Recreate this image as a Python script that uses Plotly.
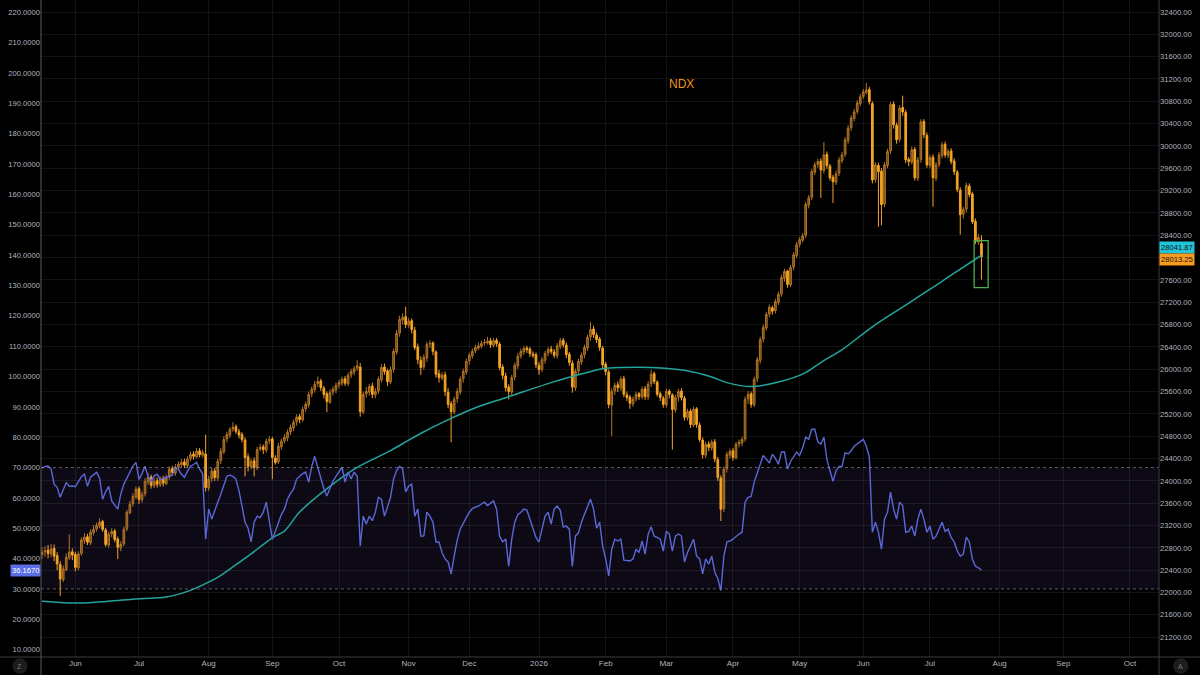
import pandas as pd
import plotly.graph_objects as go

# daily NDX bars, first bar 2025-05-16 (weekdays only)
opens = [
    22680, 22730, 22760, 22690, 22790, 22660, 22500, 22230, 22410, 22620,
    22730, 22680, 22440, 22700, 22930, 23000, 22890, 23070, 23140, 23190,
    23270, 23120, 22850, 23050, 23100, 22960, 22800, 22870, 23140, 23430,
    23590, 23710, 23860, 23660, 23770, 23980, 24070, 23910, 24000, 23930,
    24040, 23950, 24070, 24220, 24140, 24250, 24290, 24340, 24270, 24400,
    24480, 24430, 24540, 24460, 24480, 23870, 24040, 24180, 24050, 24360,
    24520, 24750, 24820, 24930, 24970, 24880, 24830, 24730, 24430, 24250,
    24360, 24230, 24570, 24610, 24550, 24720, 24750, 24410, 24340, 24610,
    24720, 24770, 24880, 24950, 25060, 25150, 25090, 25290, 25360, 25560,
    25630, 25740, 25790, 25660, 25560, 25410, 25590, 25630, 25720, 25750,
    25830, 25740, 25900, 25950, 26020, 26040, 25230, 25560, 25590, 25700,
    25540, 25610, 25810, 26040, 25970, 25770, 26000, 26310, 26650, 26880,
    26940, 26790, 26870, 26700, 26400, 26160, 26040, 26200, 26450, 26470,
    26310, 25920, 25840, 25900, 25590, 25380, 25230, 25470, 25590, 25830,
    25950, 26150, 26240, 26330, 26380, 26410, 26470, 26470, 26510, 26430,
    26520, 26450, 26040, 25880, 25680, 25590, 25860, 26060, 26240, 26310,
    26380, 26360, 26270, 26260, 26070, 26000, 26160, 26290, 26360, 26310,
    26240, 26410, 26520, 26430, 26270, 26110, 25670, 25970, 26130, 26260,
    26380, 26580, 26720, 26610, 26540, 26380, 26090, 25950, 25360, 25610,
    25720, 25660, 25830, 25540, 25500, 25380, 25470, 25560, 25500, 25650,
    25500, 25740, 25920, 25770, 25560, 25480, 25360, 25610, 25540, 25270,
    25500, 25610, 25480, 25130, 25250, 25000, 25290, 25000, 24730, 24460,
    24660, 24590, 24700, 24380, 24050, 23500, 24220, 24460, 24540, 24410,
    24660, 24680, 24750, 25470, 25560, 25360, 25830, 26160, 26540, 26740,
    26990, 27100, 27050, 27200, 27350, 27630, 27760, 27510, 27830, 28040,
    28240, 28310, 28400, 28940, 29080, 29530, 29670, 29730, 29560, 29850,
    29640, 29440, 29350, 29510, 29740, 29850, 30100, 30330, 30490, 30620,
    30760, 30890, 30960, 31010, 30760, 29400, 29650, 29550, 28960, 29650,
    29910, 30750, 30370, 30120, 30690, 30600, 29760, 29710, 29940, 29420,
    29760, 30440, 30190, 29650, 29800, 29420, 29670, 29830, 30030, 29830,
    29910, 29730, 29530, 29210, 28780, 28870, 29280, 29140, 28650, 28280,
    28250,
]
highs = [
    22810, 22830, 22850, 22870, 22860, 22720, 22560, 22480, 22700, 23040,
    22790, 22730, 22740, 22990, 23060, 23050, 23130, 23210, 23250, 23330,
    23300, 23160, 23090, 23150, 23140, 23000, 22920, 23180, 23480, 23640,
    23780, 23900, 23900, 23810, 24050, 24140, 24110, 24050, 24060, 24080,
    24090, 24110, 24260, 24270, 24300, 24350, 24390, 24400, 24440, 24520,
    24530, 24590, 24590, 24560, 24830, 24090, 24230, 24230, 24400, 24590,
    24800, 24880, 24960, 25050, 25010, 24930, 24870, 24780, 24490, 24400,
    24420, 24610, 24660, 24650, 24760, 24800, 24790, 24460, 24680, 24760,
    24840, 24920, 25010, 25100, 25190, 25200, 25330, 25420, 25600, 25690,
    25790, 25870, 25830, 25700, 25600, 25640, 25690, 25760, 25810, 25870,
    25880, 25940, 26010, 26060, 26160, 26110, 25600, 25680, 25740, 25760,
    25660, 25870, 26090, 26100, 26010, 26050, 26370, 26700, 26960, 27000,
    27120, 26920, 26910, 26760, 26460, 26230, 26270, 26490, 26520, 26500,
    26340, 25990, 25950, 25960, 25660, 25430, 25510, 25660, 25870, 26010,
    26190, 26300, 26370, 26440, 26480, 26510, 26540, 26580, 26560, 26560,
    26560, 26490, 26090, 25940, 25730, 25900, 26120, 26290, 26370, 26420,
    26420, 26400, 26320, 26300, 26130, 26220, 26330, 26400, 26420, 26360,
    26470, 26560, 26560, 26480, 26310, 26160, 26010, 26190, 26300, 26440,
    26620, 26850, 26780, 26660, 26580, 26420, 26130, 25990, 25660, 25760,
    25780, 25870, 25880, 25600, 25540, 25510, 25600, 25590, 25690, 25700,
    25780, 25990, 25960, 25800, 25600, 25520, 25650, 25640, 25570, 25540,
    25650, 25660, 25520, 25290, 25290, 25330, 25320, 25050, 24780, 24700,
    24710, 24740, 24750, 24430, 24100, 24260, 24520, 24580, 24590, 24700,
    24740, 24790, 25510, 25610, 25600, 25870, 26220, 26580, 26800, 27030,
    27160, 27140, 27260, 27390, 27690, 27800, 27780, 27870, 28100, 28280,
    28370, 28440, 29000, 29120, 29590, 29710, 29770, 29780, 30070, 29900,
    29680, 29480, 29560, 29800, 29890, 30160, 30370, 30550, 30660, 30820,
    30930, 31020, 31130, 31060, 30800, 29710, 29700, 29600, 29710, 29950,
    30790, 30800, 30420, 30730, 30900, 30650, 29800, 29990, 29980, 29800,
    30480, 30480, 30240, 29840, 29850, 29710, 29890, 30070, 30080, 29950,
    29960, 29780, 29570, 29260, 28910, 29340, 29330, 29180, 28700, 28420,
    28400,
]
lows = [
    22600, 22640, 22610, 22630, 22560, 22400, 21940, 22190, 22380, 22580,
    22580, 22380, 22400, 22660, 22870, 22850, 22850, 23020, 23090, 23150,
    23090, 22820, 22800, 22990, 22900, 22600, 22740, 22830, 23100, 23400,
    23540, 23670, 23590, 23610, 23720, 23930, 23860, 23870, 23880, 23890,
    23900, 23920, 24020, 24100, 24090, 24190, 24240, 24230, 24230, 24350,
    24380, 24400, 24420, 24420, 23810, 23820, 23980, 24000, 24000, 24300,
    24480, 24690, 24770, 24880, 24840, 24760, 24690, 24080, 24170, 24210,
    24080, 24190, 24530, 24480, 24500, 24660, 24030, 24290, 24300, 24560,
    24670, 24710, 24820, 24890, 24990, 25030, 25060, 25230, 25310, 25500,
    25580, 25680, 25610, 25480, 25230, 25380, 25530, 25570, 25660, 25700,
    25700, 25700, 25840, 25890, 25970, 25150, 25200, 25490, 25530, 25480,
    25480, 25560, 25760, 25900, 25700, 25730, 25940, 26260, 26580, 26800,
    26740, 26740, 26640, 26340, 26090, 25900, 25990, 26130, 26380, 26250,
    25850, 25760, 25800, 25520, 25300, 24690, 25190, 25400, 25540, 25760,
    25900, 26080, 26190, 26290, 26340, 26370, 26420, 26440, 26380, 26390,
    26400, 25980, 25820, 25600, 25460, 25530, 25800, 26000, 26190, 26260,
    26290, 26220, 26200, 26020, 25900, 25950, 26100, 26230, 26270, 26200,
    26190, 26360, 26390, 26200, 26060, 25580, 25610, 25900, 26080, 26200,
    26330, 26510, 26560, 26470, 26330, 26020, 25890, 25300, 24800, 25540,
    25590, 25610, 25500, 25430, 25290, 25330, 25420, 25450, 25460, 25450,
    25450, 25680, 25730, 25510, 25430, 25310, 25310, 25480, 24560, 25220,
    25420, 25440, 25080, 25080, 24950, 24960, 24950, 24700, 24400, 24410,
    24530, 24540, 24330, 24000, 23280, 23440, 24150, 24400, 24360, 24380,
    24600, 24620, 24700, 25380, 25310, 25320, 25770, 26100, 26480, 26690,
    26930, 26980, 27000, 27150, 27300, 27570, 27460, 27470, 27770, 27990,
    28180, 28270, 28350, 28880, 29030, 29480, 29610, 29070, 29510, 29590,
    29380, 28980, 29300, 29460, 29690, 29800, 30040, 30270, 30440, 30570,
    30710, 30840, 30920, 30740, 29330, 29340, 28550, 28580, 28900, 29600,
    29850, 30310, 30040, 30070, 30540, 29690, 29640, 29670, 29380, 29370,
    29700, 30140, 29610, 29600, 28910, 29370, 29620, 29780, 29790, 29780,
    29670, 29480, 29170, 28410, 28700, 28810, 29080, 28600, 28240, 28230,
    27605,
]
closes = [
    22720, 22750, 22700, 22780, 22650, 22510, 22240, 22420, 22630, 22720,
    22670, 22450, 22690, 22940, 22990, 22900, 23080, 23130, 23200, 23260,
    23130, 22860, 23040, 23090, 22950, 22810, 22860, 23130, 23440, 23580,
    23720, 23850, 23670, 23760, 23990, 24060, 23920, 23990, 23940, 24030,
    23960, 24060, 24210, 24150, 24240, 24300, 24330, 24280, 24390, 24470,
    24440, 24530, 24470, 24510, 23880, 24030, 24170, 24060, 24350, 24530,
    24740, 24830, 24920, 24960, 24890, 24820, 24740, 24420, 24260, 24350,
    24240, 24560, 24600, 24560, 24710, 24740, 24420, 24330, 24620, 24710,
    24780, 24870, 24960, 25050, 25140, 25100, 25280, 25370, 25550, 25640,
    25730, 25780, 25670, 25550, 25420, 25580, 25640, 25710, 25760, 25820,
    25750, 25890, 25960, 26010, 26060, 25240, 25550, 25600, 25690, 25550,
    25600, 25820, 26030, 25960, 25780, 25990, 26320, 26640, 26890, 26930,
    26800, 26860, 26710, 26390, 26170, 26030, 26210, 26440, 26460, 26320,
    25910, 25850, 25890, 25600, 25370, 25240, 25460, 25600, 25820, 25960,
    26140, 26250, 26320, 26390, 26420, 26460, 26480, 26500, 26440, 26510,
    26460, 26030, 25890, 25670, 25600, 25850, 26070, 26230, 26320, 26370,
    26350, 26280, 26250, 26080, 25990, 26170, 26280, 26350, 26320, 26250,
    26420, 26510, 26440, 26260, 26120, 25680, 25960, 26140, 26250, 26390,
    26570, 26710, 26620, 26530, 26390, 26080, 25960, 25370, 25600, 25710,
    25670, 25820, 25550, 25490, 25390, 25460, 25550, 25510, 25640, 25510,
    25730, 25910, 25780, 25550, 25490, 25370, 25600, 25550, 25280, 25490,
    25600, 25490, 25140, 25240, 25010, 25280, 25010, 24740, 24470, 24650,
    24600, 24690, 24390, 24060, 23490, 24210, 24470, 24530, 24420, 24650,
    24690, 24740, 25460, 25550, 25370, 25820, 26170, 26530, 26750, 26980,
    27110, 27040, 27210, 27340, 27640, 27750, 27520, 27820, 28050, 28230,
    28320, 28390, 28950, 29070, 29540, 29660, 29720, 29570, 29840, 29650,
    29430, 29360, 29500, 29750, 29840, 30110, 30320, 30500, 30610, 30770,
    30880, 30970, 31000, 30790, 29390, 29660, 29540, 28950, 29660, 29900,
    30740, 30380, 30110, 30680, 30610, 29750, 29720, 29930, 29430, 29750,
    30430, 30200, 29660, 29790, 29430, 29660, 29840, 30020, 29840, 29900,
    29720, 29540, 29220, 28770, 28860, 29290, 29130, 28640, 28290, 28360,
    28013.25,
]
rsi = [
    69.8, 70.4, 70.5, 69.5, 64.5, 63.5, 60.2, 63.0, 65.1, 63.8,
    63.9, 63.7, 65.5, 67.0, 67.8, 63.8, 66.8, 67.5, 68.4, 66.5,
    59.6, 62.0, 63.8, 59.0, 57.5, 56.3, 61.3, 64.5, 66.5, 68.4,
    70.5, 71.7, 66.1, 68.0, 70.4, 67.0, 65.5, 67.2, 67.8, 66.1,
    66.5, 66.8, 67.0, 67.5, 70.1, 69.5, 67.8, 66.8, 68.8, 70.4,
    71.0, 71.7, 69.5, 68.0, 46.4, 56.3, 53.0, 55.5, 58.6, 61.2,
    63.9, 67.1, 67.5, 67.1, 66.2, 62.3, 57.3, 52.0, 50.0, 45.5,
    52.0, 54.0, 53.5, 55.3, 58.6, 52.5, 46.4, 49.0, 52.0, 54.6,
    56.3, 59.6, 61.5, 62.9, 66.2, 67.1, 68.0, 68.5, 65.2, 70.4,
    73.7, 70.0, 66.0, 63.0, 60.6, 62.9, 65.5, 67.1, 68.5, 70.1,
    65.2, 68.5, 66.2, 68.5, 67.1, 44.1, 54.0, 51.4, 54.0, 52.5,
    55.3, 60.2, 59.6, 54.0, 57.0, 60.2, 66.2, 69.0, 70.4, 69.5,
    62.0, 63.9, 64.5, 54.0, 56.3, 47.4, 47.5, 55.3, 54.0, 52.0,
    45.5, 45.5, 42.0, 39.9, 38.9, 34.9, 40.8, 46.0, 49.7, 51.4,
    53.5, 55.3, 56.5, 57.0, 57.3, 58.0, 58.6, 57.5, 58.3, 59.0,
    56.3, 47.4, 45.5, 46.5, 37.5, 46.4, 52.0, 54.5, 55.3, 56.3,
    56.0, 53.0, 49.7, 47.0, 45.5, 49.7, 54.0, 55.3, 51.4, 56.3,
    57.3, 56.0, 50.4, 50.7, 49.7, 37.4, 47.4, 48.5, 52.0, 54.6,
    57.0, 59.6, 56.3, 50.0, 52.0, 44.1, 39.9, 34.3, 43.1, 46.4,
    45.8, 46.4, 39.5, 39.3, 39.2, 39.9, 43.1, 42.0, 45.8, 41.5,
    48.0, 50.5, 47.4, 47.0, 46.4, 42.5, 49.0, 48.1, 42.5, 47.4,
    48.1, 47.4, 38.9, 42.0, 44.1, 46.4, 40.8, 39.9, 35.0, 39.9,
    38.2, 40.8, 35.6, 33.5, 29.5, 40.8, 45.5, 45.8, 46.4, 47.4,
    48.1, 48.7, 58.6, 60.2, 60.5, 65.2, 68.5, 71.1, 74.0, 72.7,
    71.5, 74.4, 73.0, 71.1, 75.1, 75.1, 69.5, 72.0, 73.4, 75.1,
    74.0, 76.5, 80.0, 79.3, 82.6, 82.6, 78.5, 77.7, 80.0, 72.7,
    69.0, 65.5, 68.8, 70.4, 70.4, 74.9, 74.5, 75.5, 77.0, 77.7,
    78.5, 79.3, 77.0, 73.4, 48.7, 52.0, 48.7, 43.1, 53.0, 55.3,
    61.9, 56.3, 53.0, 58.6, 57.5, 48.7, 49.0, 50.7, 47.4, 53.0,
    56.3, 53.0, 48.7, 50.7, 46.4, 47.4, 49.7, 52.0, 49.0, 49.7,
    47.0, 45.5, 42.5, 40.8, 41.5, 47.1, 45.5, 39.9, 37.5, 37.0,
    36.167,
]

# moving average read at selected bars (bar number, value)
ma_bar = [0, 12, 30, 41, 48, 52, 58, 62, 69, 71, 76, 80, 85, 95, 104, 115, 121, 126, 130, 135,
          143, 153, 159, 168, 177, 185, 191, 201, 212, 221, 226, 234, 243, 252, 257, 264, 274,
          285, 296, 301, 310]
ma_val = [21845, 21810, 21880, 21920, 22020, 22110, 22270, 22420, 22690, 22775, 22980, 23100,
          23440, 23900, 24240, 24540, 24730, 24880, 24990, 25120, 25310, 25490, 25600, 25760,
          25900, 26010, 26030, 26030, 25980, 25860, 25760, 25690, 25770, 25940, 26120, 26350,
          26760, 27150, 27540, 27720, 28041.87]

month_ticks = ['2025-06-02', '2025-07-01', '2025-08-01', '2025-09-01', '2025-10-01', '2025-11-03',
               '2025-12-01', '2026-01-01', '2026-02-02', '2026-03-02', '2026-04-01', '2026-05-01',
               '2026-06-01', '2026-07-01', '2026-08-03', '2026-09-01', '2026-10-01']
month_labels = ['Jun', 'Jul', 'Aug', 'Sep', 'Oct', 'Nov', 'Dec', '2026', 'Feb', 'Mar', 'Apr', 'May',
                'Jun', 'Jul', 'Aug', 'Sep', 'Oct']

dates = pd.bdate_range('2025-05-16', periods=len(closes))
ma_dates = [dates[i] for i in ma_bar]

BG = '#000000'
GRID = 'rgba(255,255,255,0.07)'
TXT = '#b2b5be'
ORANGE = '#f5a425'
TEAL = '#22a59c'
BLUE = '#5c67d6'
FONT = 'Liberation Sans'

fig = go.Figure()
fig.add_trace(go.Candlestick(
    x=dates, open=opens, high=highs, low=lows, close=closes, yaxis='y',
    increasing=dict(line=dict(color='#b27625', width=1), fillcolor='rgba(178,118,37,0.6)'),
    decreasing=dict(line=dict(color=ORANGE, width=1), fillcolor=ORANGE),
    whiskerwidth=0, showlegend=False, hoverinfo='skip'))
fig.add_trace(go.Scatter(x=ma_dates, y=ma_val, mode='lines', yaxis='y',
                         line=dict(color=TEAL, width=1.5, shape='spline', smoothing=0.8),
                         showlegend=False, hoverinfo='skip'))
fig.add_trace(go.Scatter(x=dates, y=rsi, mode='lines', yaxis='y2',
                         line=dict(color=BLUE, width=1.4), showlegend=False, hoverinfo='skip'))

shapes = [
    dict(type='rect', xref='paper', yref='y2', x0=0, x1=1, y0=30, y1=70,
         fillcolor='rgba(120,90,200,0.11)', line=dict(width=0), layer='below'),
    dict(type='line', xref='paper', yref='y2', x0=0, x1=1, y0=70, y1=70,
         line=dict(color='rgba(160,160,170,0.55)', width=1, dash='3px,3px')),
    dict(type='line', xref='paper', yref='y2', x0=0, x1=1, y0=30, y1=30,
         line=dict(color='rgba(160,160,170,0.55)', width=1, dash='3px,3px')),
    # highlight box around the last bars
    dict(type='rect', xref='x', yref='y', x0='2026-07-21 14:00', x1='2026-07-28 05:00',
         y0=27463, y1=28303, line=dict(color='#4caf50', width=1.3)),
    # frame lines
    dict(type='line', xref='paper', yref='paper', x0=-0.04, x1=1.04, y0=0, y1=0,
         line=dict(color='#3c3c3c', width=1)),
    dict(type='line', xref='paper', yref='paper', x0=0, x1=0, y0=-0.03, y1=1,
         line=dict(color='#5a5a5a', width=1)),
    dict(type='line', xref='paper', yref='paper', x0=1, x1=1, y0=-0.03, y1=1,
         line=dict(color='#3c3c3c', width=1)),
    dict(type='circle', xref='paper', yref='paper', x0=-0.0256, x1=-0.0120, y0=-0.0255, y1=-0.0020,
         fillcolor='#1c1c1c', line=dict(width=0)),
    dict(type='circle', xref='paper', yref='paper', x0=1.0127, x1=1.0263, y0=-0.0255, y1=-0.0020,
         fillcolor='#1c1c1c', line=dict(width=0)),
]

annotations = [
    dict(text='NDX', xref='paper', yref='paper', x=0.5725, y=0.872, xanchor='center', yanchor='middle',
         showarrow=False, font=dict(family=FONT, size=12, color='#f0921e')),
    dict(text=f'{ma_val[-1]:.2f}', xref='paper', yref='y', x=1, y=ma_val[-1], xanchor='left',
         yanchor='middle', yshift=8, showarrow=False, bgcolor='#22c4d8', borderpad=1,
         font=dict(family=FONT, size=7.6, color='#111111')),
    dict(text=f'{closes[-1]:.2f}', xref='paper', yref='y', x=1, y=closes[-1], xanchor='left',
         yanchor='middle', yshift=-3, showarrow=False, bgcolor='#f79a1e', borderpad=1,
         font=dict(family=FONT, size=7.6, color='#111111')),
    dict(text=f'{rsi[-1]:.4f}', xref='paper', yref='y2', x=0, y=rsi[-1], xanchor='right',
         yanchor='middle', showarrow=False, bgcolor='#5b6ee6', borderpad=1,
         font=dict(family=FONT, size=7.6, color='#ffffff')),
    dict(text='Z', xref='paper', yref='paper', x=-0.0188, y=-0.0137, xanchor='center',
         yanchor='middle', showarrow=False, font=dict(family=FONT, size=7, color='#7a7a7a')),
    dict(text='A', xref='paper', yref='paper', x=1.0195, y=-0.0137, xanchor='center',
         yanchor='middle', showarrow=False, font=dict(family=FONT, size=7, color='#7a7a7a')),
]

fig.update_layout(
    width=1200, height=675,
    margin=dict(l=41, r=41, t=0, b=18),
    paper_bgcolor=BG, plot_bgcolor=BG,
    font=dict(family=FONT, size=8, color=TXT),
    showlegend=False, boxgap=0.2,
    shapes=shapes, annotations=annotations,
    xaxis=dict(type='date', rangeslider=dict(visible=False),
               rangebreaks=[dict(bounds=['sat', 'mon'])],
               range=['2025-05-15 16:00', '2026-10-14 14:00'],
               tickvals=month_ticks, ticktext=month_labels,
               showgrid=True, gridcolor=GRID, gridwidth=1, zeroline=False,
               showline=False, ticks='', tickfont=dict(size=8, color=TXT)),
    yaxis=dict(side='right', range=[20844, 32615], tick0=0, dtick=400, tickformat='.2f',
               showgrid=True, gridcolor=GRID, gridwidth=1, zeroline=False,
               showline=False, ticks='', tickfont=dict(size=7.6, color=TXT)),
    yaxis2=dict(side='left', overlaying='y', range=[7.6, 224.0], tick0=0, dtick=10,
                tickformat='.4f', showgrid=False, zeroline=False, showline=False, ticks='',
                tickfont=dict(size=7.6, color=TXT)),
)

fig.write_html('out.html', config={'displayModeBar': False},
               post_script="document.body.style.margin='0';document.body.style.overflow='hidden';")
